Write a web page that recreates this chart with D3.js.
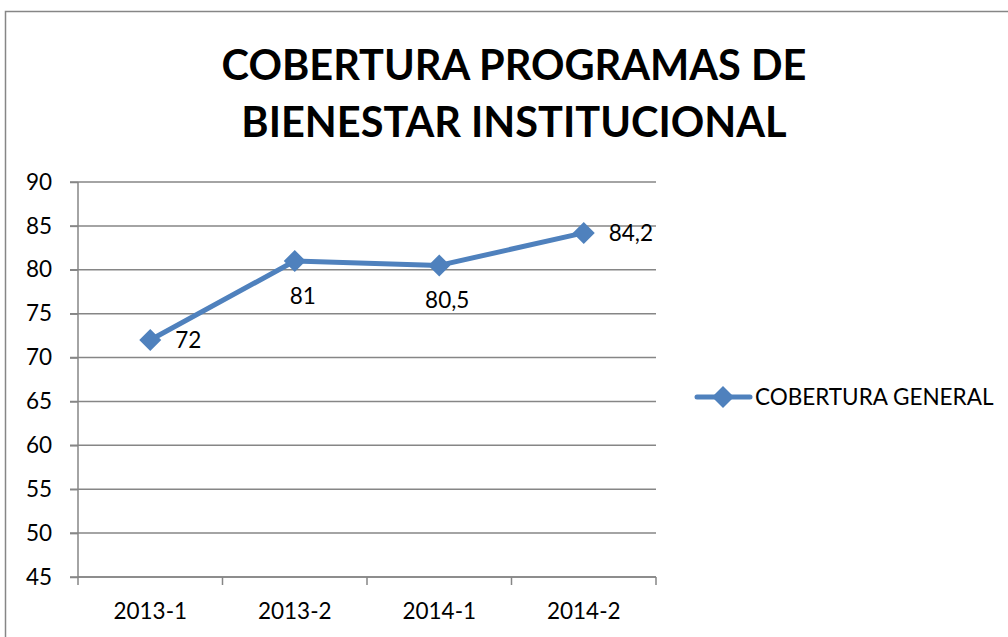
<!DOCTYPE html>
<html><head><meta charset="utf-8">
<script src="https://cdn.jsdelivr.net/npm/d3@7"></script>
<style>body{margin:0;background:#fff}svg{display:block}text{font-family:Lato,"Open Sans",sans-serif}</style>
</head><body>
<svg id="c" width="1008" height="637"></svg>
<script>
const titleLines = ["COBERTURA PROGRAMAS DE", "BIENESTAR INSTITUCIONAL"];
const categories = ["2013-1", "2013-2", "2014-1", "2014-2"];
const values = [72, 81, 80.5, 84.2];
const valueLabels = ["72", "81", "80,5", "84,2"];
const labelPos = ["right", "below", "below", "right"];
const yTicks = [45, 50, 55, 60, 65, 70, 75, 80, 85, 90];
const seriesName = "COBERTURA GENERAL";

const svg = d3.select("#c");
const color = "#4F81BD", grid = "#868686";
const FS = 22.5;

svg.append("path").attr("d","M5.5,637 L5.5,11.5 L1008,11.5").attr("fill","none").attr("stroke","#868686").attr("stroke-width",1.5);

svg.append("text").attr("x",514).attr("text-anchor","middle").attr("font-weight","bold").attr("font-size",41.5)
  .selectAll("tspan").data(titleLines).join("tspan").attr("x",514).attr("y",(d,i)=>80+i*57).text(d=>d);

const x = d3.scaleBand().domain(categories).range([78,656]);
const y = d3.scaleLinear().domain([45,90]).range([577,182]);

svg.append("g").selectAll("line").data(yTicks).join("line")
  .attr("x1",70).attr("x2",656).attr("y1",d=>y(d)).attr("y2",d=>y(d))
  .attr("stroke",grid).attr("stroke-width",1.5);

const ya = svg.append("g").attr("transform","translate(78,0)")
  .call(d3.axisLeft(y).tickValues(yTicks).tickSize(8).tickPadding(18));
ya.select(".domain").attr("stroke",grid).attr("stroke-width",1.5).attr("d","M0,182V577");
ya.selectAll(".tick line").attr("stroke",grid).attr("stroke-width",1.5);
ya.selectAll("text").attr("font-size",FS).attr("fill","#000").style("font-family","Lato,'Open Sans',sans-serif");

const xa = svg.append("g").attr("transform","translate(0,577)")
  .call(d3.axisBottom(x).tickSize(0).tickPadding(26));
xa.select(".domain").attr("stroke",grid).attr("stroke-width",1.5).attr("d","M78,0H656");
xa.selectAll("text").attr("font-size",FS).attr("fill","#000").style("font-family","Lato,'Open Sans',sans-serif");
const bounds = categories.map(c=>x(c)).concat([x(categories[categories.length-1])+x.bandwidth()]);
svg.append("g").selectAll("line").data(bounds).join("line")
  .attr("x1",d=>d).attr("x2",d=>d).attr("y1",577).attr("y2",585)
  .attr("stroke",grid).attr("stroke-width",1.5);

const cx = c => x(c)+x.bandwidth()/2;
const data = categories.map((c,i)=>({c, v:values[i], l:valueLabels[i], p:labelPos[i]}));
svg.append("path").datum(data)
  .attr("d", d3.line().x(d=>cx(d.c)).y(d=>y(d.v)))
  .attr("fill","none").attr("stroke",color).attr("stroke-width",5).attr("stroke-linejoin","round").attr("stroke-linecap","round");
const dm = "M0,-11L11,0L0,11L-11,0Z";
svg.append("g").selectAll("path").data(data).join("path")
  .attr("d",dm).attr("transform",d=>`translate(${cx(d.c)},${y(d.v)})`).attr("fill",color);

svg.append("g").selectAll("text").data(data).join("text")
  .attr("font-size",FS).attr("fill","#000")
  .attr("x",d=>d.p==="right"? cx(d.c)+25 : cx(d.c)+8)
  .attr("y",d=>d.p==="right"? y(d.v)+8 : y(d.v)+43)
  .attr("text-anchor",d=>d.p==="right"?"start":"middle")
  .text(d=>d.l);

const lg = svg.append("g");
lg.append("line").attr("x1",697).attr("x2",750).attr("y1",397).attr("y2",397).attr("stroke",color).attr("stroke-width",5).attr("stroke-linecap","round");
lg.append("path").attr("d",dm).attr("transform","translate(723,397)").attr("fill",color);
lg.append("text").attr("x",755).attr("y",405).attr("font-size",22.5).text(seriesName);
</script>
</body></html>
